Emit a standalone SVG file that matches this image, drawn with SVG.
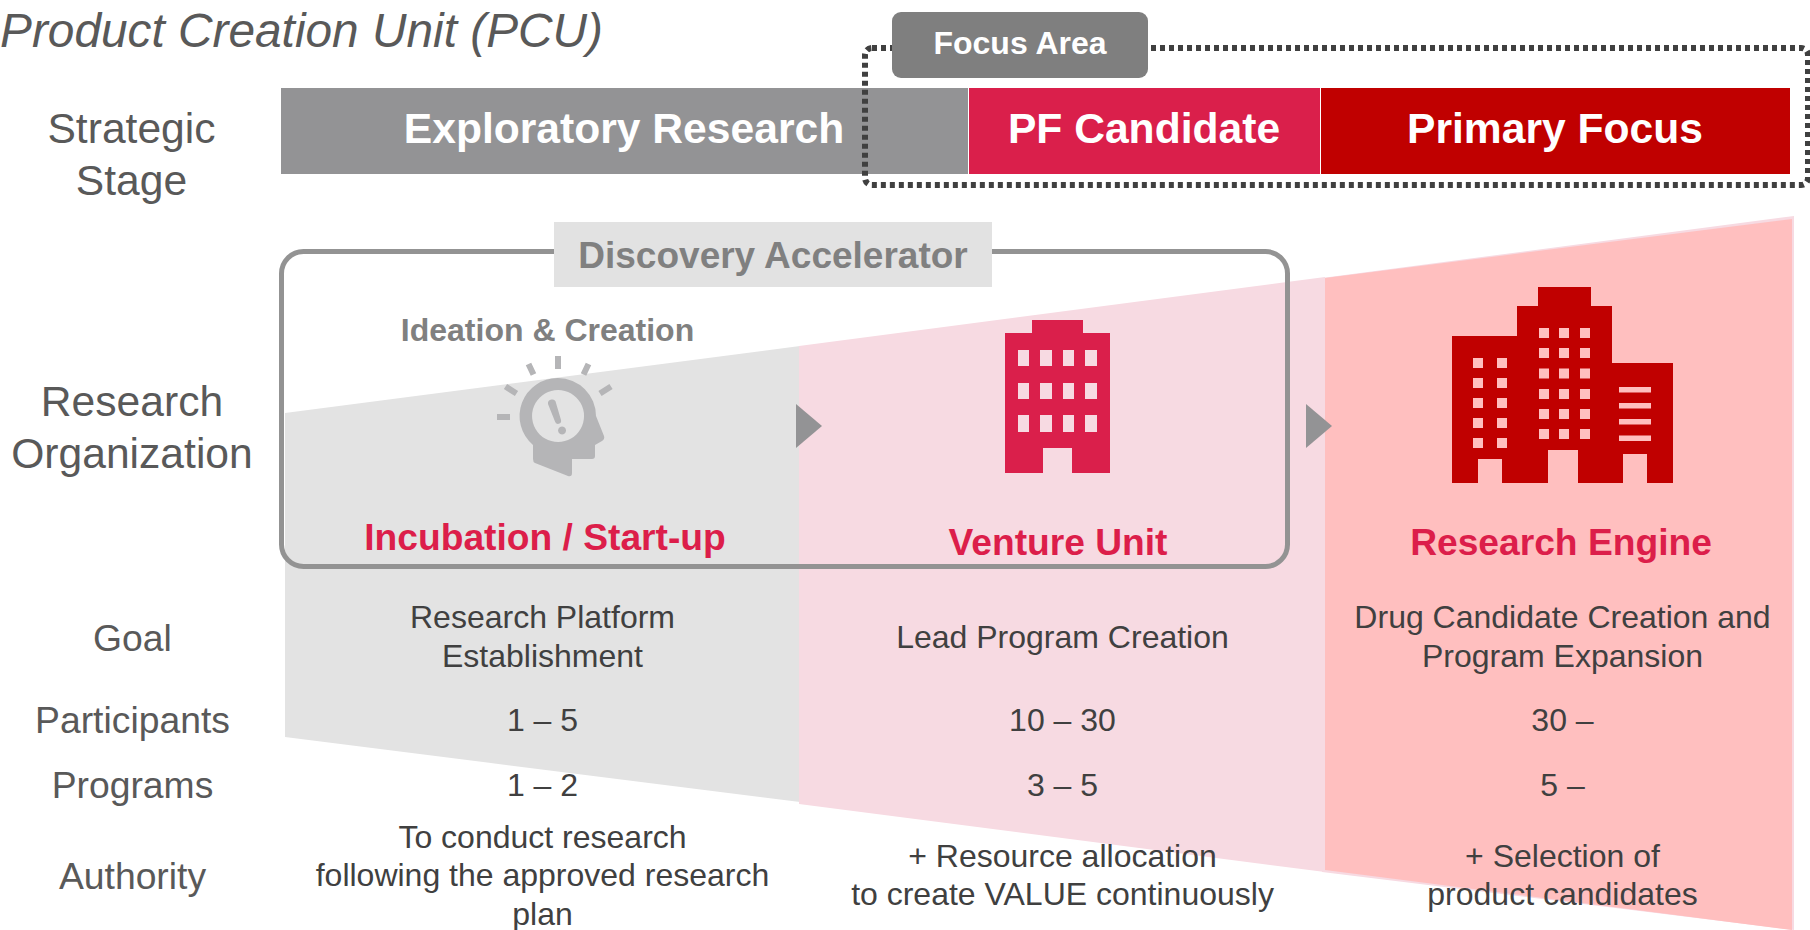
<svg xmlns="http://www.w3.org/2000/svg" width="1810" height="930" viewBox="0 0 1810 930">
<style>
text{font-family:"Liberation Sans",Arial,sans-serif;text-anchor:middle}
.lab{font-size:42.600px;fill:#595959}
.row{font-size:37.300px;fill:#595959}
.cell{font-size:32px;fill:#404040}
.stage{font-size:42.600px;font-weight:700;fill:#fff}
.unit{font-size:37.200px;font-weight:700;fill:#dc1e4a}
.ray{stroke:#b5b5b7;stroke-width:6;fill:none}
</style>
<rect width="1810" height="930" fill="#fff"/>
<g id="title"><text x="0" y="46.500" style="text-anchor:start;font-size:47.800px;font-style:italic;fill:#595959">Product Creation Unit (PCU)</text></g>
<g id="bands">
<polygon points="285,413 800,346 800,802 285,737" fill="#e3e3e3"/>
<polygon points="799,346 1325,277 1325,872 799,804" fill="#f7dae2"/>
<polygon points="1322,278 1794,216 1794,930 1322,872" fill="#f7dae2"/>
<polygon points="1325,278 1792,219 1792,930 1325,870" fill="#ffbfbf"/>
</g>
<g id="stage-bar">
<rect x="281" y="88" width="687" height="86" fill="#939395"/>
<rect x="969" y="88" width="351" height="86" fill="#da1f4b"/>
<rect x="1321" y="88" width="469" height="86" fill="#c00000"/>
<text class="stage" x="624" y="143">Exploratory Research</text>
<text class="stage" x="1144" y="143">PF Candidate</text>
<text class="stage" x="1555" y="143">Primary Focus</text>
</g>
<g id="focus-area">
<rect x="865" y="48" width="943" height="137" rx="7" fill="none" stroke="#404040" stroke-width="6" stroke-dasharray="5 4"/>
<rect x="892" y="12" width="256" height="66" rx="9" fill="#7f7f7f"/>
<text x="1020" y="54" style="font-size:32px;font-weight:700;fill:#fff">Focus Area</text>
</g>
<g id="discovery-accelerator">
<rect x="281.500" y="251.500" width="1006" height="315" rx="22" fill="none" stroke="#939393" stroke-width="5"/>
<rect x="554" y="222" width="438" height="65" fill="#e2e2e2"/>
<text x="773" y="267.500" style="font-size:37px;font-weight:700;fill:#808080">Discovery Accelerator</text>
</g>
<g id="connectors">
<polygon points="796,404 822,426 796,448" fill="#939395"/>
<polygon points="1306,404 1332,426 1306,448" fill="#939395"/>
</g>
<g id="incubation">
<text x="547.500" y="341" style="font-size:32px;font-weight:700;fill:#808080">Ideation &amp; Creation</text>
<path fill-rule="evenodd" fill="#b5b5b7" d="M558,378A38,38 0 0 1 596,416L604,436q1,3 -2,5L595,445V456q0,3 -3,3H572V473q0,4 -4,3L535,463q-2,-1 -2,-4V445A38,38 0 0 1 558,378zM558,390a26,26 0 1 0 0.100,0z"/>
<path fill="#b5b5b7" d="M548,404a4,4 0 0 1 8,-1l5,17a3,3 0 0 1 -6,1.500zM562,426.500a4,4 0 1 0 0.100,0z"/>
<path class="ray" d="M558,356v13M528.500,364l5,10.500M588.500,364l-5,10.500M505.500,386.500l11,7M611,386.500l-11,7M497,417h13"/>
<text x="545" y="550" class="unit">Incubation / Start-up</text>
</g>
<g id="venture">
<path fill="#da1f4b" fill-rule="evenodd" d="M1032,320h51v13h27v140h-38v-25h-29v25h-38v-140h27zM1018,350v16h11v-16zM1040,350v16h12v-16zM1063,350v16h11v-16zM1085,350v16h12v-16zM1018,383v16h11v-16zM1040,383v16h12v-16zM1063,383v16h11v-16zM1085,383v16h12v-16zM1018,415v17h11v-17zM1040,415v17h12v-17zM1063,415v17h11v-17zM1085,415v17h12v-17z"/>
<text x="1058" y="554.500" class="unit">Venture Unit</text>
</g>
<g id="engine">
<path fill="#c00000" d="M1538,287h53v19h21v57h61v120h-221v-147h65v-30h21z"/>
<g fill="#ffbfbf">
<rect x="1539" y="328" width="10" height="10"/><rect x="1559" y="328" width="10" height="10"/><rect x="1580" y="328" width="10" height="10"/>
<rect x="1539" y="348" width="10" height="10"/><rect x="1559" y="348" width="10" height="10"/><rect x="1580" y="348" width="10" height="10"/>
<rect x="1539" y="368.500" width="10" height="10"/><rect x="1559" y="368.500" width="10" height="10"/><rect x="1580" y="368.500" width="10" height="10"/>
<rect x="1539" y="389" width="10" height="10"/><rect x="1559" y="389" width="10" height="10"/><rect x="1580" y="389" width="10" height="10"/>
<rect x="1539" y="409" width="10" height="10"/><rect x="1559" y="409" width="10" height="10"/><rect x="1580" y="409" width="10" height="10"/>
<rect x="1539" y="429" width="10" height="10"/><rect x="1559" y="429" width="10" height="10"/><rect x="1580" y="429" width="10" height="10"/>
<rect x="1473" y="358" width="10" height="10"/><rect x="1497" y="358" width="10" height="10"/>
<rect x="1473" y="378" width="10" height="10"/><rect x="1497" y="378" width="10" height="10"/>
<rect x="1473" y="398" width="10" height="10"/><rect x="1497" y="398" width="10" height="10"/>
<rect x="1473" y="418" width="10" height="10"/><rect x="1497" y="418" width="10" height="10"/>
<rect x="1473" y="438" width="10" height="10"/><rect x="1497" y="438" width="10" height="10"/>
<rect x="1619" y="387" width="32" height="5.500"/><rect x="1619" y="403" width="32" height="5.500"/><rect x="1619" y="419" width="32" height="5.500"/><rect x="1619" y="435.500" width="32" height="5.500"/>
<rect x="1478" y="459" width="24" height="24"/><rect x="1548" y="450" width="30" height="33"/><rect x="1623" y="454" width="24" height="29"/>
</g>
<text x="1561" y="554.500" class="unit">Research Engine</text>
</g>
<g id="row-labels">
<text class="lab" x="131.500" y="143">Strategic</text><text class="lab" x="131.500" y="195">Stage</text>
<text class="lab" x="132" y="416">Research</text><text class="lab" x="132" y="468">Organization</text>
<text class="row" x="132.500" y="650.500">Goal</text>
<text class="row" x="132.500" y="733">Participants</text>
<text class="row" x="132.500" y="798">Programs</text>
<text class="row" x="132.500" y="889">Authority</text>
</g>
<g id="cells">
<text class="cell" x="542.500" y="628">Research Platform</text><text class="cell" x="542.500" y="667">Establishment</text>
<text class="cell" x="1062.500" y="648">Lead Program Creation</text>
<text class="cell" x="1562.500" y="628">Drug Candidate Creation and</text><text class="cell" x="1562.500" y="667">Program Expansion</text>
<text class="cell" x="542.500" y="731">1 – 5</text><text class="cell" x="1062.500" y="731">10 – 30</text><text class="cell" x="1562.500" y="731">30 –</text>
<text class="cell" x="542.500" y="796">1 – 2</text><text class="cell" x="1062.500" y="796">3 – 5</text><text class="cell" x="1562.500" y="796">5 –</text>
<text class="cell" x="542.500" y="848">To conduct research</text><text class="cell" x="542.500" y="886">following the approved research</text><text class="cell" x="542.500" y="925">plan</text>
<text class="cell" x="1062.500" y="867">+ Resource allocation</text><text class="cell" x="1062.500" y="905">to create VALUE continuously</text>
<text class="cell" x="1562.500" y="867">+ Selection of</text><text class="cell" x="1562.500" y="905">product candidates</text>
</g>
</svg>
